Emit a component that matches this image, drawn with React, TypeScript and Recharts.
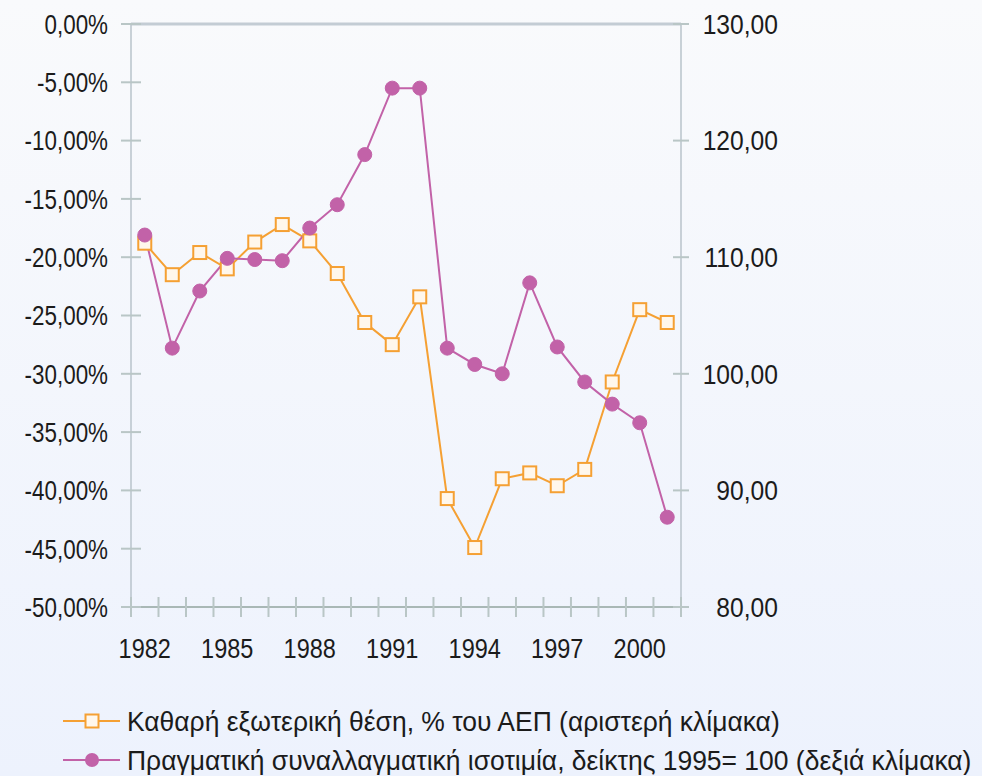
import React from 'react';
import { LineChart, Line, XAxis, YAxis, ReferenceLine, Legend } from 'recharts';

const years = ['1982','1983','1984','1985','1986','1987','1988','1989','1990','1991','1992','1993','1994','1995','1996','1997','1998','1999','2000','2001'];
const netPosition = [-18.8, -21.5, -19.6, -21.0, -18.7, -17.2, -18.6, -21.4, -25.6, -27.5, -23.4, -40.7, -44.9, -39.0, -38.5, -39.6, -38.2, -30.7, -24.5, -25.6];
const realRate = [111.9, 102.2, 107.1, 109.9, 109.8, 109.7, 112.5, 114.5, 118.8, 124.5, 124.5, 102.2, 100.8, 100.0, 107.8, 102.3, 99.3, 97.4, 95.8, 87.7];
const leftTicks = [0, -5, -10, -15, -20, -25, -30, -35, -40, -45, -50];
const rightTicks = [80, 90, 100, 110, 120, 130];
const shownYears = ['1982','1985','1988','1991','1994','1997','2000'];
const seriesNames = [
  'Καθαρή εξωτερική θέση, % του ΑΕΠ (αριστερή κλίμακα)',
  'Πραγματική συναλλαγματική ισοτιμία, δείκτης 1995= 100 (δεξιά κλίμακα)',
];

const data = years.map((y, i) => ({ year: y, net: netPosition[i], rate: realRate[i] }));

const FONT = '"Liberation Sans", Arial, sans-serif';
const TEXT = '#1b1b1b';
const ORANGE = '#f5a033';
const PURPLE = '#c262a8';
const TICK = '#b9c6c6';
const HALF = 13.77;

const fmt = (v: number) => v.toFixed(2).replace('.', ',');

const NText = ({ x, y, anchor, size = 28, squeeze = 0.82, children }: any) => (
  <text
    transform={`translate(${x},${y}) scale(${squeeze},1)`}
    dy="0.35em"
    textAnchor={anchor}
    fontSize={size}
    fontFamily={FONT}
    fill={TEXT}
  >
    {children}
  </text>
);

const LeftTick = (p: any) => {
  const { x, y, payload } = p;
  return (
    <g>
      <line x1={x - 10} x2={x + 10} y1={y} y2={y} stroke={TICK} strokeWidth={2} />
      <NText x={x - 23} y={y} anchor="end" squeeze={0.8}>
        {fmt(Math.abs(payload.value) < 1e-9 ? 0 : payload.value) + '%'}
      </NText>
    </g>
  );
};

const RightTick = (p: any) => {
  const { x, y, payload } = p;
  return (
    <g>
      <line x1={x - 8} x2={x + 8} y1={y} y2={y} stroke={TICK} strokeWidth={2} />
      <NText x={x + 97} y={y} anchor="end" squeeze={0.88}>
        {fmt(payload.value)}
      </NText>
    </g>
  );
};

const XTick = (p: any) => {
  const { x, y, payload, index } = p;
  const last = index === years.length - 1;
  return (
    <g>
      <line x1={x - HALF} x2={x - HALF} y1={y - 10} y2={y + 10} stroke={TICK} strokeWidth={2} />
      {last && <line x1={x + HALF} x2={x + HALF} y1={y - 10} y2={y + 10} stroke={TICK} strokeWidth={2} />}
      {shownYears.includes(payload.value) && (
        <NText x={x} y={y + 41} anchor="middle" squeeze={0.84}>
          {payload.value}
        </NText>
      )}
    </g>
  );
};

const SquareDot = (p: any) => {
  const { cx, cy } = p;
  if (cx == null || cy == null) return null;
  return <rect x={cx - 6.5} y={cy - 6.5} width={13} height={13} fill="#fff7ec" stroke={ORANGE} strokeWidth={2} />;
};

const CircleDot = (p: any) => {
  const { cx, cy } = p;
  if (cx == null || cy == null) return null;
  return <circle cx={cx} cy={cy} r={7} fill={PURPLE} stroke={PURPLE} strokeWidth={1} />;
};

const LegendContent = (props: any) => {
  const payload = props.payload || [];
  return (
    <svg width={982} height={80} style={{ display: 'block' }}>
      {payload.map((entry: any, i: number) => {
        const cy = 26 + i * 39;
        const color = entry.color;
        return (
          <g key={i}>
            <line x1={63} x2={120} y1={cy} y2={cy} stroke={color} strokeWidth={2} />
            {i === 0 ? (
              <rect x={85.5} y={cy - 6.5} width={13} height={13} fill="#fff7ec" stroke={color} strokeWidth={2} />
            ) : (
              <circle cx={92} cy={cy} r={7} fill={color} />
            )}
            <NText x={127} y={cy} anchor="start" size={28} squeeze={0.945}>
              {entry.value}
            </NText>
          </g>
        );
      })}
    </svg>
  );
};

export default function App() {
  return (
    <div style={{ width: 982, height: 776, background: 'linear-gradient(#f9fafc, #edf2fd)', position: 'relative' }}>
      <style>{`body{margin:0}`}</style>
      <LineChart width={982} height={776} data={data} margin={{ top: 24, right: 0, left: 0, bottom: 0 }}>
        <XAxis
          dataKey="year"
          type="category"
          interval={0}
          padding={{ left: HALF, right: HALF }}
          tickLine={false}
          tickSize={0}
          tickMargin={0}
          height={169}
          axisLine={{ stroke: '#a9b8b6', strokeWidth: 2 }}
          tick={<XTick />}
        />
        <YAxis
          yAxisId="left"
          orientation="left"
          domain={[-50, 0]}
          ticks={leftTicks}
          width={131}
          tickLine={false}
          tickSize={0}
          tickMargin={0}
          axisLine={{ stroke: '#b8c3cb', strokeWidth: 1.5 }}
          tick={<LeftTick />}
          allowDataOverflow
        />
        <YAxis
          yAxisId="right"
          orientation="right"
          domain={[80, 130]}
          ticks={rightTicks}
          width={301}
          tickLine={false}
          tickSize={0}
          tickMargin={0}
          axisLine={{ stroke: '#b8c3cb', strokeWidth: 1.5 }}
          tick={<RightTick />}
          allowDataOverflow
        />
        <ReferenceLine yAxisId="left" y={0} stroke="#c3ccd4" strokeWidth={3} />
        <Legend
          verticalAlign="middle"
          layout="horizontal"
          content={<LegendContent />}
          wrapperStyle={{ top: 695, left: 0, width: 982, height: 80 }}
        />
        <Line
          yAxisId="left"
          dataKey="net"
          name={seriesNames[0]}
          stroke={ORANGE}
          strokeWidth={2}
          dot={<SquareDot />}
          activeDot={false}
          isAnimationActive={false}
        />
        <Line
          yAxisId="right"
          dataKey="rate"
          name={seriesNames[1]}
          stroke={PURPLE}
          strokeWidth={2}
          dot={<CircleDot />}
          activeDot={false}
          isAnimationActive={false}
        />
      </LineChart>
    </div>
  );
}
